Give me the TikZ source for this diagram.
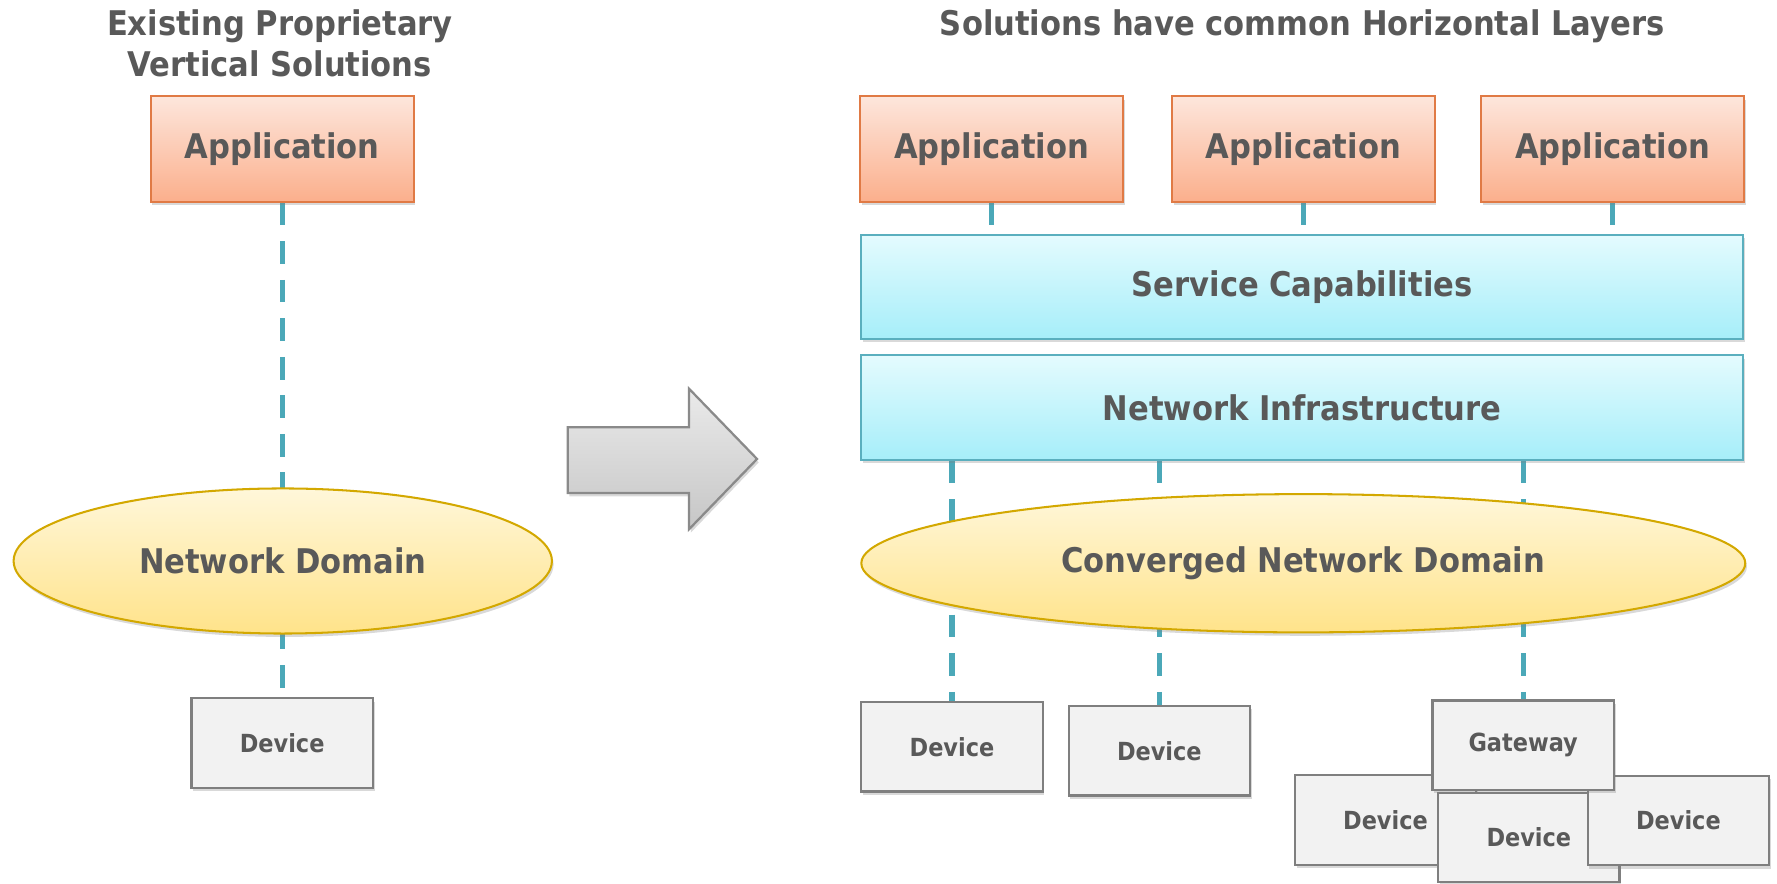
\documentclass[tikz,border=0pt]{standalone}
\usepackage{fontspec}
\setmainfont{DejaVu Sans Condensed}
\usetikzlibrary{shapes.geometric,shadows,backgrounds}
\definecolor{txt}{HTML}{595959}
\definecolor{appTop}{HTML}{FDE6DC}
\definecolor{appBot}{HTML}{FBAF8C}
\definecolor{appLine}{HTML}{E07A45}
\definecolor{layTop}{HTML}{E4FBFE}
\definecolor{layBot}{HTML}{A6EEF9}
\definecolor{layLine}{HTML}{5AAFBE}
\definecolor{ellTop}{HTML}{FFF7DA}
\definecolor{ellBot}{HTML}{FFE38A}
\definecolor{ellLine}{HTML}{D3A800}
\definecolor{devFill}{HTML}{F2F2F2}
\definecolor{devLine}{HTML}{7F7F7F}
\definecolor{arrTop}{HTML}{EAEAEA}
\definecolor{arrBot}{HTML}{C6C6C6}
\definecolor{arrLine}{HTML}{8A8A8A}
\definecolor{conn}{HTML}{4BA8B8}
\tikzset{
  shad/.style={drop shadow={shadow xshift=1.5pt,shadow yshift=-3pt,opacity=0.3}},
  title/.style={font=\bfseries\fontsize{30}{36}\selectfont,text=txt,align=center,inner sep=0},
  appbox/.style={rectangle,draw=appLine,line width=1.8,top color=appTop,bottom color=appBot,
    minimum width=232,minimum height=93,inner sep=0,font=\bfseries\fontsize{30}{36}\selectfont,text=txt,shad},
  laybox/.style={rectangle,draw=layLine,line width=1.8,top color=layTop,bottom color=layBot,
    minimum width=778,minimum height=92,inner sep=0,font=\bfseries\fontsize{30}{36}\selectfont,text=txt,shad},
  ellnode/.style={ellipse,draw=ellLine,line width=1.8,top color=ellTop,bottom color=ellBot,
    inner sep=0,font=\bfseries\fontsize{30}{36}\selectfont,text=txt,shad},
  devbox/.style={rectangle,draw=devLine,line width=2,fill=devFill,
    minimum width=160,minimum height=79,inner sep=0,font=\bfseries\fontsize{22}{26}\selectfont,text=txt,shad},
  connline/.style={draw=conn,line width=4.5,dash pattern=on 20 off 14},
}
\begin{document}
\begin{tikzpicture}[x=1pt,y=-1pt]
\useasboundingbox (0,0) rectangle (1568,780);

% titles
\node[title] (ltitle) at (247,38.5) {Existing Proprietary\\Vertical Solutions};
\node[title] (rtitle) at (1149,23) {Solutions have common Horizontal Layers};

% left column
\node[appbox] (lapp) at (249,131.5) {Application};
\node[ellnode,minimum width=475,minimum height=128] (lnet) at (249.5,495) {Network Domain};
\node[devbox] (ldev) at (249,655.5) {Device};

% arrow
\shade[top color=arrTop,bottom color=arrBot,draw=arrLine,line width=2,
  drop shadow={shadow xshift=1.5pt,shadow yshift=-3pt,opacity=0.3}]
  (501,377) -- (608,377) -- (608,343) -- (668,405) -- (608,467) -- (608,435) -- (501,435) -- cycle;

% right column
\node[appbox] (app1) at (875,131.5) {Application};
\node[appbox] (app2) at (1150,131.5) {Application};
\node[appbox] (app3) at (1423,131.5) {Application};
\node[laybox] (sc) at (1149,253) {Service Capabilities};
\node[laybox] (ni) at (1149,359.5) {Network Infrastructure};
\node[ellnode,minimum width=780,minimum height=122] (cnet) at (1150,497) {Converged Network Domain};
\node[devbox] (d1) at (840,659) {Device};
\node[devbox] (d2) at (1023,662.5) {Device};
\node[devbox] (d3) at (1222.5,723.5) {Device};
\node[devbox] (d4) at (1349,739) {Device};
\node[devbox] (d5) at (1481,724) {Device};
\node[devbox] (gw) at (1344,657.5) {Gateway};

% connectors (behind)
\begin{scope}[on background layer]
\draw[connline] (lapp.south) -- (ldev.north);
\draw[connline] (app1.south) -- (app1.south |- sc.north);
\draw[connline] (app2.south) -- (app2.south |- sc.north);
\draw[connline] (app3.south) -- (app3.south |- sc.north);
\draw[connline] (d1.north |- ni.south) -- (d1.north);
\draw[connline] (d2.north |- ni.south) -- (d2.north);
\draw[connline] (gw.north |- ni.south) -- (gw.north);
\end{scope}
\end{tikzpicture}
\end{document}
